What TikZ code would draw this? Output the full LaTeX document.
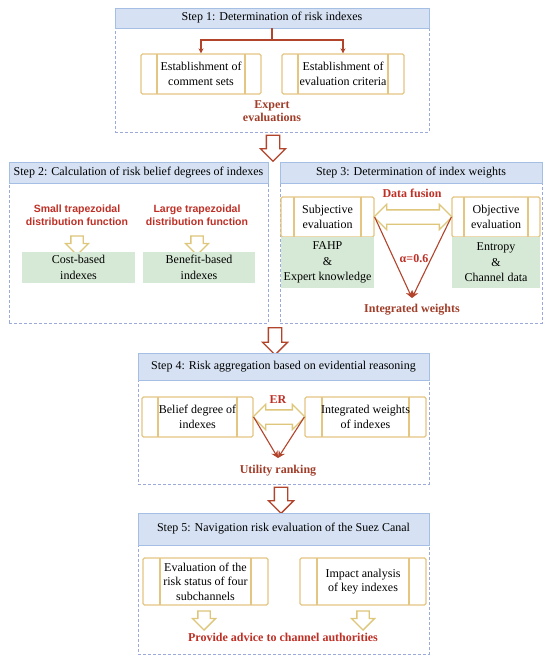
\documentclass[tikz,border=0pt]{standalone}
\usepackage{fontspec}
\setmainfont{Liberation Serif}
\newfontfamily\sansfont{Liberation Sans}
\usetikzlibrary{shapes.arrows, positioning, calc, arrows.meta}

\definecolor{hdrblue}{RGB}{214,226,243}
\definecolor{hdrline}{RGB}{165,190,228}
\definecolor{dashblue}{RGB}{155,170,218}
\definecolor{boxgold}{RGB}{228,198,130}
\definecolor{boxgreen}{RGB}{214,233,214}
\definecolor{txtred}{RGB}{190,48,38}
\definecolor{txtbrown}{RGB}{160,62,42}
\definecolor{arrred}{RGB}{178,68,44}
\definecolor{arrgold}{RGB}{222,198,122}

\tikzset{
  hdr/.style={draw=hdrline, fill=hdrblue, line width=0.8pt, inner sep=0pt,
    font=\fontsize{12}{14}\selectfont},
  stepframe/.style={draw=dashblue, dash pattern=on 3pt off 2pt, line width=1pt, inner sep=0pt},
  procbox/.style={draw=boxgold, fill=white, line width=1.3pt, rounded corners=1.5pt,
    align=center, inner sep=0pt, font=\fontsize{12}{14.5}\selectfont,
    path picture={
      \draw[boxgold, line width=1.3pt] ([xshift=#1]path picture bounding box.north west)
        -- ([xshift=#1]path picture bounding box.south west);
      \draw[boxgold, line width=1.3pt] ([xshift=-#1]path picture bounding box.north east)
        -- ([xshift=-#1]path picture bounding box.south east);}},
  procbox/.default=16pt,
  greenbox/.style={fill=boxgreen, align=center, inner sep=0pt, font=\fontsize{12}{15.5}\selectfont},
  redtxt/.style={text=txtred, align=center, font=\bfseries\fontsize{12}{13.5}\selectfont},
  browntxt/.style={text=txtbrown, align=center, font=\bfseries\fontsize{12}{13.5}\selectfont},
  sanstxt/.style={text=txtred, align=center, font=\sansfont\bfseries\fontsize{10.5}{13.3}\selectfont},
  bigarrow/.style={single arrow, draw=arrred, fill=white, line width=1.3pt, inner sep=6pt,
    single arrow head extend=6pt, rotate=-90},
  goldarrow/.style={single arrow, draw=arrgold, fill=white, line width=1.3pt, inner sep=5.5pt,
    single arrow head extend=5.5pt, rotate=-90},
  darrow/.style={double arrow, draw=arrgold, fill=white, line width=1.3pt, inner sep=6.5pt,
    double arrow head extend=5.5pt},
  brline/.style={draw=arrred, line width=1.1pt}
}

\begin{document}
\begin{tikzpicture}[x=1pt, y=1pt]
  % canvas
  \path[use as bounding box, fill=white] (0,0) rectangle (550,-658);

  % 1. Step 1
  \node[stepframe, minimum width=314, minimum height=104] (frm1) at (272,-80) {};
  \node[hdr, minimum width=314, minimum height=20] (hdr1) at (272,-18) {Step 1: Determination of risk indexes};
  \node[procbox, minimum width=120, minimum height=40] (estcom) at (201,-74) {Establishment of\\comment sets};
  \node[procbox, minimum width=122, minimum height=40] (estcri) at (343,-74) {Establishment of\\evaluation criteria};
  \coordinate (split1) at (272,-40);
  \draw[brline] (hdr1.south) -- (split1);
  \draw[brline, -{Stealth[length=5pt, width=5pt]}] (split1) -| (estcom.north);
  \draw[brline, -{Stealth[length=5pt, width=5pt]}] (split1) -| (estcri.north);
  \node[browntxt] (expev) at (272,-111) {Expert\\evaluations};

  \node[bigarrow, minimum height=26] (arr1) at (273,-145) {};

  % 2. Step 2
  \node[stepframe, minimum width=259, minimum height=140] (frm2) at (138.5,-253) {};
  \node[hdr, minimum width=259, minimum height=21] (hdr2) at (138.5,-172.5) {Step 2: Calculation of risk belief degrees of indexes};
  \node[sanstxt] (smtrap) at (77,-215) {Small trapezoidal\\distribution function};
  \node[sanstxt] (lgtrap) at (197,-215) {Large trapezoidal\\distribution function};
  \node[goldarrow, minimum height=19] (arrsm) at (77,-242.5) {};
  \node[goldarrow, minimum height=19] (arrlg) at (197,-242.5) {};
  \node[greenbox, minimum width=113, minimum height=31] (cost) at (78.5,-267.5) {Cost-based\\indexes};
  \node[greenbox, minimum width=112, minimum height=31] (bene) at (199,-267.5) {Benefit-based\\indexes};

  % 3. Step 3
  \node[stepframe, minimum width=262, minimum height=140] (frm3) at (411,-253) {};
  \node[hdr, minimum width=262, minimum height=21] (hdr3) at (411,-172.5) {Step 3: Determination of index weights};
  \node[procbox=13pt, minimum width=93, minimum height=40] (subj) at (327.5,-217) {Subjective\\evaluation};
  \node[greenbox, minimum width=93, minimum height=51] (fahp) at (327.5,-262.5) {FAHP\\\&\\Expert knowledge};
  \node[procbox=12pt, minimum width=88, minimum height=40] (obj) at (496,-217) {Objective\\evaluation};
  \node[greenbox, minimum width=88, minimum height=51] (entr) at (496,-262.5) {Entropy\\\&\\Channel data};
  \node[darrow, minimum height=78] (fuse) at ($(subj.east)!0.5!(obj.west)$) {};
  \node[redtxt] (fuselbl) at (412,-193) {Data fusion};
  \coordinate (apex3) at (412,-298);
  \draw[brline, -{Stealth[length=7pt, width=7pt]}] (subj.east) -- (apex3);
  \draw[brline, -{Stealth[length=7pt, width=7pt]}] (obj.west) -- (apex3);
  \node[redtxt] (alpha) at (414,-259) {α=0.6};
  \node[browntxt] (intw) at (412,-310) {Integrated weights};

  \node[bigarrow, minimum height=27] (arr2) at (275,-338) {};

  % 4. Step 4
  \node[stepframe, minimum width=291, minimum height=104] (frm4) at (283.5,-432) {};
  \node[hdr, minimum width=291, minimum height=27] (hdr4) at (283.5,-366.5) {Step 4: Risk aggregation based on evidential reasoning};
  \node[procbox, minimum width=111, minimum height=40] (belief) at (197.5,-417) {Belief degree of\\indexes};
  \node[procbox=17pt, minimum width=121, minimum height=40] (intwts) at (365.5,-417) {Integrated weights\\of indexes};
  \node[darrow, minimum height=52] (er) at ($(belief.east)!0.5!(intwts.west)$) {};
  \node[redtxt] (erlbl) at (278,-400) {ER};
  \coordinate (apex4) at (278,-458);
  \draw[brline, -{Stealth[length=7pt, width=7pt]}] (belief.east) -- (apex4);
  \draw[brline, -{Stealth[length=7pt, width=7pt]}] (intwts.west) -- (apex4);
  \node[browntxt] (util) at (278,-471) {Utility ranking};

  \node[bigarrow, minimum height=26] (arr3) at (281,-497) {};

  % 5. Step 5
  \node[stepframe, minimum width=291, minimum height=109] (frm5) at (283.5,-599.5) {};
  \node[hdr, minimum width=291, minimum height=32] (hdr5) at (283.5,-529) {Step 5: Navigation risk evaluation of the Suez Canal};
  \node[procbox=17pt, minimum width=125, minimum height=47] (evalrisk) at (205.5,-581.5) {Evaluation of the\\risk status of four\\subchannels};
  \node[procbox=17pt, minimum width=126, minimum height=47] (impact) at (363,-581.5) {Impact analysis\\of key indexes};
  \node[goldarrow, minimum height=19] (arrev) at (204,-617.5) {};
  \node[goldarrow, minimum height=19] (arrim) at (363,-617.5) {};
  \node[redtxt] (advice) at (283,-637) {Provide advice to channel authorities};

\end{tikzpicture}
\end{document}
